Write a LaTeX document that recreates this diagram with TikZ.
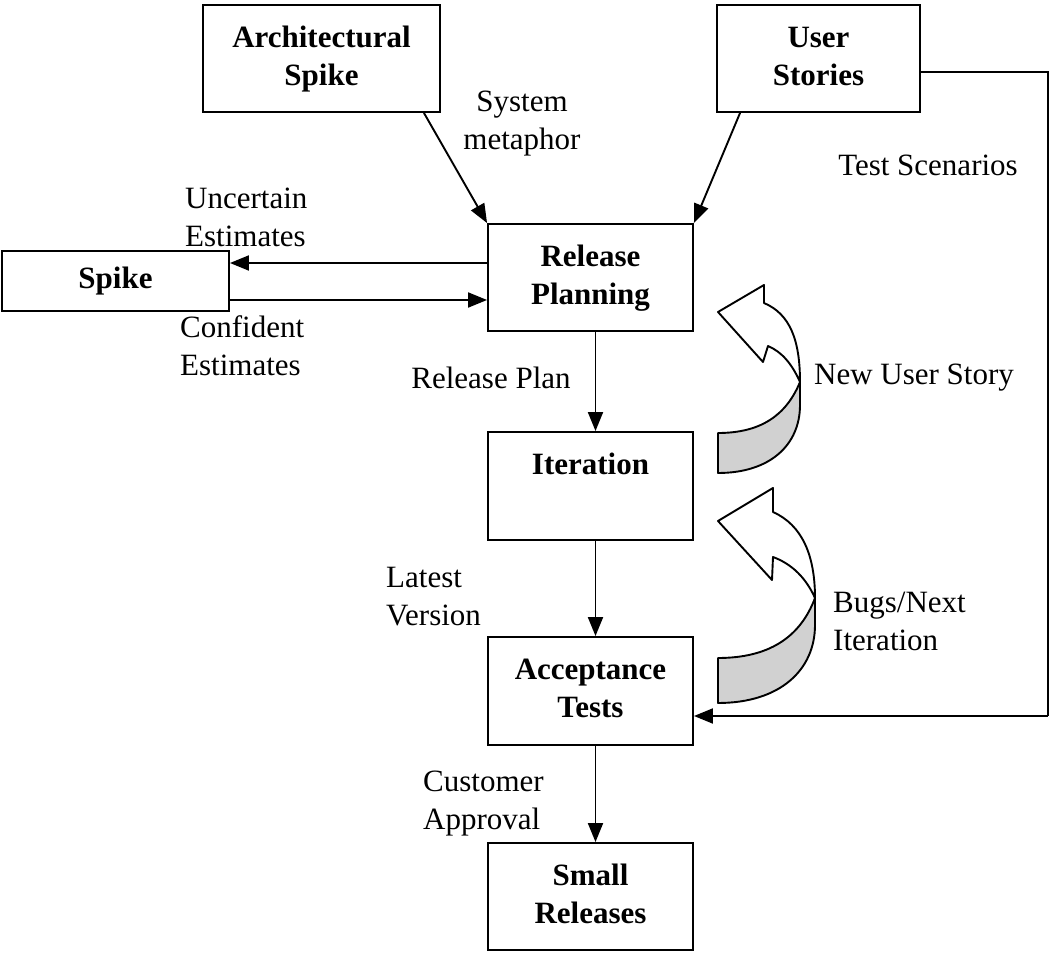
\documentclass[tikz,border=0pt]{standalone}
\usepackage{fontspec}
\setmainfont{Liberation Serif}
\usetikzlibrary{arrows.meta,calc}
\begin{document}
\begin{tikzpicture}[x=1pt,y=-1pt,
  box/.style={draw,line width=1.9pt,font=\fontsize{31}{38}\selectfont\bfseries,align=center,inner sep=0pt},
  lbl/.style={font=\fontsize{31}{38}\selectfont,inner sep=0pt},
  arr/.style={line width=1.9pt,-{Triangle[length=19pt,width=15pt]}},
  ln/.style={line width=1.9pt},
  curl/.style={draw,line width=1.9pt,line join=round}]
\useasboundingbox (0,0) rectangle (1050,965);
% boxes
\node[box,minimum width=237pt,minimum height=107pt] (as) at (321.5,58.5) {Architectural\strut\\Spike\strut};
\node[box,minimum width=203pt,minimum height=107pt] (us) at (818.5,58.5) {User\strut\\Stories\strut};
\node[box,minimum width=227pt,minimum height=60pt] (sp) at (115.5,281) {Spike};
\node[box,minimum width=205pt,minimum height=107pt] (rp) at (590.5,277.5) {Release\strut\\Planning\strut};
\node[box,minimum width=205pt,minimum height=108pt] (it) at (590.5,486) {Iteration\strut\\\strut};
\node[box,minimum width=205pt,minimum height=108pt] (at) at (590.5,691) {Acceptance\strut\\Tests\strut};
\node[box,minimum width=205pt,minimum height=107pt] (sr) at (590.5,896.5) {Small\strut\\Releases\strut};
% labels
\node[lbl,align=center] (l1) at (522,124) {System\\metaphor};
\node[lbl] (l2) at (928,165) {Test Scenarios};
\node[lbl,align=left,anchor=west] (l3) at (185,217) {Uncertain\\Estimates};
\node[lbl,align=left,anchor=west] (l4) at (180,346) {Confident\\Estimates};
\node[lbl] (l5) at (491,378) {Release Plan};
\node[lbl] (l6) at (914,378) {New User Story};
\node[lbl,align=left,anchor=west] (l7) at (386,597) {Latest\\Version};
\node[lbl,align=left,anchor=west] (l8) at (833,621) {Bugs/Next\\Iteration};
\node[lbl,align=left,anchor=west] (l9) at (423,804) {Customer\\Approval};
% connectors
\draw[arr] ([xshift=-17pt]as.south east) -- (rp.north west);
\draw[arr] ([xshift=24pt]us.south west) -- (rp.north east);
\coordinate (u1) at ([yshift=14.5pt]rp.west);
\draw[arr] (u1) -- (u1 -| sp.east);
\coordinate (c1) at ([yshift=-19pt]sp.east);
\draw[arr] (c1) -- (c1 -| rp.west);
\draw[arr] ([xshift=5pt]rp.south) -- ([xshift=5pt]it.north);
\draw[arr] ([xshift=5pt]it.south) -- ([xshift=5pt]at.north);
\draw[arr] ([xshift=5pt]at.south) -- ([xshift=5pt]sr.north);
\coordinate (t0) at ([yshift=-13.5pt]us.east);
\coordinate (t1) at (1048,72);
\coordinate (t2) at (1048,716);
\coordinate (t3) at ([yshift=-25pt]at.east);
\draw[ln,line join=miter] (t0) -- (t1) -- (t2);
\draw[arr] (t2) -- (t3);
% curved arrow 1
\path[curl,fill=white] (718,312) -- (764,285) -- (764,303)
  .. controls (790,314) and (800,340) .. (800,382)
  .. controls (792,364) and (782,352) .. (768,346) -- (763,362) -- cycle;
\path[curl,fill=black!18] (800,382) .. controls (786,416) and (760,433) .. (718,433)
  -- (718,473) .. controls (770,473) and (800,445) .. (800,405) -- cycle;
% curved arrow 2
\path[curl,fill=white] (718,521) -- (773,488) -- (773,512)
  .. controls (802,525) and (815,555) .. (815,598)
  .. controls (806,578) and (792,564) .. (773,557) -- (772,580) -- cycle;
\path[curl,fill=black!18] (815,598) .. controls (800,638) and (768,658) .. (718,658)
  -- (718,703) .. controls (780,703) and (815,670) .. (815,625) -- cycle;
\end{tikzpicture}
\end{document}
